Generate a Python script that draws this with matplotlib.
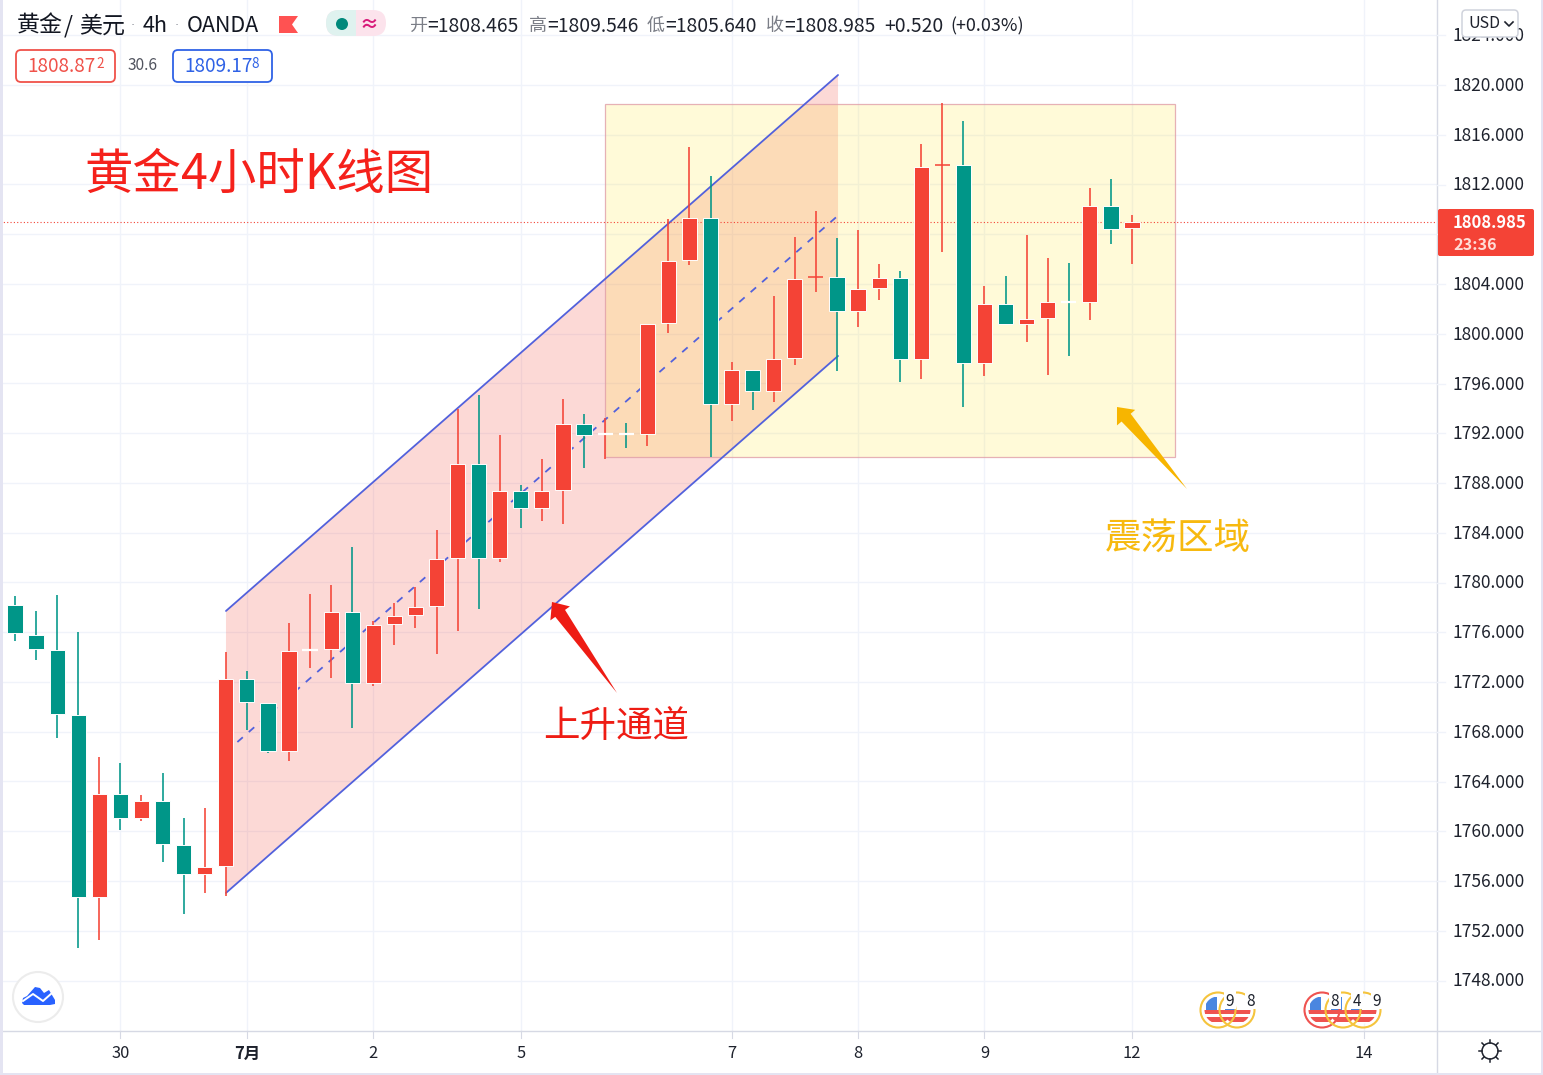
import math
import matplotlib
matplotlib.use("Agg")
import matplotlib.pyplot as plt
from matplotlib.patches import Rectangle, Polygon, FancyBboxPatch, Circle

FONT = ['Noto Sans CJK SC', 'DejaVu Sans']
plt.rcParams['font.family'] = FONT

# ---- candle data ----
opens = [1778.19, 1775.78, 1774.57, 1769.35, 1754.72, 1763.00, 1761.07, 1762.43, 1758.90, 1756.56,
         1757.21, 1772.24, 1770.31, 1766.45, 1774.57, 1774.65, 1777.63, 1771.92, 1776.66, 1777.39,
         1778.11, 1781.97, 1789.53, 1781.97, 1787.36, 1785.99, 1787.44, 1792.74, 1791.94, 1791.94,
         1791.94, 1800.86, 1805.93, 1809.31, 1794.35, 1797.09, 1795.40, 1798.05, 1804.56, 1804.56,
         1801.83, 1803.68, 1804.48, 1797.97, 1813.57, 1813.57, 1797.65, 1802.39, 1800.78, 1801.27,
         1802.55, 1802.55, 1810.27, 1808.465]
highs = [1778.92, 1777.71, 1779.00, 1776.02, 1765.97, 1765.49, 1762.92, 1764.68, 1761.07, 1761.87,
         1774.41, 1772.89, 1770.31, 1776.74, 1779.08, 1779.80, 1782.86, 1776.91, 1778.35, 1779.64,
         1784.22, 1793.95, 1795.08, 1791.86, 1787.84, 1789.93, 1794.75, 1793.55, 1793.23, 1792.82,
         1800.78, 1809.23, 1815.02, 1812.68, 1797.73, 1797.09, 1803.04, 1807.78, 1809.87, 1807.70,
         1808.34, 1805.61, 1805.05, 1815.26, 1818.55, 1817.11, 1803.84, 1804.64, 1807.94, 1806.09,
         1805.69, 1811.72, 1812.44, 1809.546]
lows = [1775.30, 1773.77, 1767.50, 1750.61, 1751.26, 1760.10, 1760.83, 1757.53, 1753.35, 1755.04,
        1754.80, 1768.14, 1766.29, 1765.65, 1773.13, 1772.32, 1768.30, 1771.68, 1774.98, 1776.34,
        1774.25, 1776.10, 1777.87, 1781.65, 1784.38, 1784.95, 1784.70, 1789.21, 1789.93, 1790.81,
        1790.98, 1800.06, 1805.53, 1790.09, 1792.99, 1793.87, 1794.51, 1797.49, 1803.36, 1797.01,
        1800.54, 1802.71, 1796.12, 1796.36, 1806.57, 1794.11, 1796.60, 1800.78, 1799.34, 1796.68,
        1798.21, 1801.11, 1807.22, 1805.640]
closes = [1775.94, 1774.65, 1769.43, 1754.72, 1763.00, 1761.07, 1762.43, 1758.98, 1756.56, 1757.13,
          1772.24, 1770.39, 1766.45, 1774.49, 1774.58, 1777.63, 1771.92, 1776.58, 1777.31, 1778.03,
          1781.89, 1789.53, 1781.97, 1787.36, 1785.99, 1787.36, 1792.74, 1791.86, 1791.95, 1791.93,
          1800.78, 1805.85, 1809.31, 1794.35, 1797.09, 1795.40, 1797.97, 1804.40, 1804.57, 1801.83,
          1803.60, 1804.48, 1797.97, 1813.41, 1813.58, 1797.65, 1802.39, 1800.78, 1801.19, 1802.55,
          1802.54, 1810.27, 1808.42, 1808.985]
flat_red = [38, 44]            # dojis whose flat body shows in red

grid_prices = [1748, 1752, 1756, 1760, 1764, 1768, 1772, 1776, 1780, 1784, 1788, 1792, 1796, 1800,
               1804, 1808, 1812, 1816, 1820, 1824]
hidden_price_labels = [1808]   # covered by the last-price tag
time_pos = [5, 11, 17, 24, 34, 40, 46, 53, 64]
time_labels = ['30', '7月', '2', '5', '7', '8', '9', '12', '14']
last_price = 1808.985

channel_x = [10.01, 39.05]
channel_up = [1777.71, 1820.80]
channel_lo = [1755.04, 1798.21]
channel_mid = [1766.37, 1809.50]
zone_x = [28.0, 55.04]
zone_y = [1790.09, 1818.47]

RED = '#f44336'
GREEN = '#009688'
GRID = '#f0f3fa'
AXLINE = '#d6d9e4'
CHAN = '#5261dc'
DARK = '#131722'

W, H = 1543, 1075
fig = plt.figure(figsize=(W / 100, H / 100), dpi=100, facecolor='white')

PLOT_R, PLOT_B = 1437, 1031
ax = fig.add_axes([0, 1 - PLOT_B / H, PLOT_R / W, PLOT_B / H])
ax.set_xlim(-0.712, 67.47)
ax.set_ylim(1743.94, 1826.83)
ax.axis('off')

for p in grid_prices:
    ax.axhline(p, color=GRID, lw=1, zorder=1)
for t in time_pos:
    ax.axvline(t, color=GRID, lw=1, zorder=1)

# channel
ax.add_patch(Polygon([(channel_x[0], channel_up[0]), (channel_x[1], channel_up[1]),
                      (channel_x[1], channel_lo[1]), (channel_x[0], channel_lo[0])],
                     closed=True, facecolor=RED, alpha=0.2, edgecolor='none', zorder=2))
# zone
ax.add_patch(Rectangle((zone_x[0], zone_y[0]), zone_x[1] - zone_x[0], zone_y[1] - zone_y[0],
                       facecolor=(1.0, 0.90, 0.24, 0.2), edgecolor=(0.88, 0.62, 0.66, 0.8),
                       lw=0.9, zorder=3))
ax.plot(channel_x, channel_up, color=CHAN, lw=1.3, zorder=4, solid_capstyle='round')
ax.plot(channel_x, channel_lo, color=CHAN, lw=1.3, zorder=4, solid_capstyle='round')
ax.plot(channel_x, channel_mid, color=CHAN, lw=1.3, zorder=4, dashes=(4, 4.4))
ax.axhline(last_price, color=RED, lw=0.8, ls=(0, (1, 2)), zorder=4)

# candles
for i, (o, h, l, c) in enumerate(zip(opens, highs, lows, closes)):
    col = RED if c >= o else GREEN
    ax.plot([i, i], [l, h], color=col, lw=1.15, zorder=5, solid_capstyle='butt')
    bottom, top = min(o, c), max(o, c)
    if top - bottom < 0.05:
        ax.plot([i - 0.36, i + 0.36], [o, o], color=RED if i in flat_red else 'white',
                lw=1.1 if i in flat_red else 1.6, zorder=6, solid_capstyle='butt')
    else:
        ax.bar(i, top - bottom, width=0.72, bottom=bottom, color=col, edgecolor='white',
               linewidth=0.7, zorder=6)

# ---- interface layer in picture pixels ----
ui = fig.add_axes([0, 0, 1, 1], zorder=10)
ui.set_xlim(0, W)
ui.set_ylim(H, 0)
ui.axis('off')
ui.patch.set_alpha(0)


def T(x, y, s, px, color=DARK, ha='left', va='center', weight='normal', z=20, family=FONT):
    return ui.text(x, y + 1, s, fontsize=px * 0.72, color=color, ha=ha, va=va, weight=weight,
                   family=family, zorder=z)


def arrow(tip, tail, color):
    ux, uy = tail[0] - tip[0], tail[1] - tip[1]
    n = math.hypot(ux, uy)
    ux, uy = ux / n, uy / n
    nx, ny = -uy, ux
    pts = [tip,
           (tip[0] + ux * 14 + nx * 12, tip[1] + uy * 14 + ny * 12),
           (tip[0] + ux * 14 + nx * 6, tip[1] + uy * 14 + ny * 6),
           tail,
           (tip[0] + ux * 14 - nx * 6, tip[1] + uy * 14 - ny * 6),
           (tip[0] + ux * 14 - nx * 12, tip[1] + uy * 14 - ny * 12)]
    ui.add_patch(Polygon(pts, closed=True, facecolor=color, edgecolor='none', zorder=12))


arrow((552, 602), (617, 693), '#ee1c14')
arrow((1117, 407), (1187, 489), '#f7b500')

# frame lines
ui.plot([PLOT_R, PLOT_R], [0, 1073], color=AXLINE, lw=1, zorder=5)
ui.plot([2, 1541], [PLOT_B, PLOT_B], color=AXLINE, lw=1, zorder=5)
ui.add_patch(Rectangle((0, 0), 2.5, H, facecolor='#e4e4f2', edgecolor='none', zorder=5))
ui.add_patch(Rectangle((1541, 0), 2, H, facecolor='#e4e4f2', edgecolor='none', zorder=5))
ui.add_patch(Rectangle((0, 1072.5), W, 2.5, facecolor='#e4e4f2', edgecolor='none', zorder=5))


def py(p):
    return 85 + (1820 - p) * 12.4375


for p in grid_prices:
    ui.plot([PLOT_R, PLOT_R + 8], [py(p), py(p)], color=GRID, lw=1, zorder=5)
    if p not in hidden_price_labels:
        T(1453, py(p), f'{p:.3f}', 17.4, color='#1e222d', z=10)

for t, lab in zip(time_pos, time_labels):
    x = 15 + 21.075 * t
    ui.plot([x, x], [PLOT_B, PLOT_B + 7], color=AXLINE, lw=0.8, zorder=5)
    T(x, 1053, lab, 16.5, ha='center', weight='bold' if lab == '7月' else 'normal', color='#1e222d')

# price tag
ui.add_patch(FancyBboxPatch((1438, 209), 96, 47, boxstyle='round,pad=0,rounding_size=2',
                            facecolor=RED, edgecolor='none', zorder=15))
T(1453, 222, '1808.985', 16.6, color='white', weight='bold')
T(1453, 244, '23:36', 16.2, color='#ffdcd6', weight='bold')

# USD box
ui.add_patch(FancyBboxPatch((1462, 10), 56, 27, boxstyle='round,pad=0,rounding_size=4',
                            facecolor='white', edgecolor='#d0d3dc', lw=1.1, zorder=18))
T(1468, 23, 'USD', 16, color='#1e222d')
ui.plot([1505, 1509, 1513], [22, 26, 22], color='#1e222d', lw=1.2, zorder=20)

# header
T(17, 25, '黄金', 23)
T(64, 25, '/', 23)
T(79, 25, '美元', 23)
T(133, 25, '·', 13, color='#9598a1', ha='center', family=['DejaVu Sans'])
T(143, 25, '4h', 21.5)
T(177, 25, '·', 13, color='#9598a1', ha='center', family=['DejaVu Sans'])
T(187, 25, 'OANDA', 21.5)
ui.add_patch(Polygon([(279, 16), (298, 16), (292, 24.5), (298, 33), (279, 33)], closed=True,
                     facecolor='#ff5252', edgecolor='none', zorder=15))
ui.add_patch(FancyBboxPatch((326, 10), 60, 26, boxstyle='round,pad=0,rounding_size=13',
                            facecolor='#fce3ec', edgecolor='none', zorder=14))
left_pill = FancyBboxPatch((326, 10), 60, 26, boxstyle='round,pad=0,rounding_size=13',
                           facecolor='#dff2ef', edgecolor='none', zorder=15)
ui.add_patch(left_pill)
left_pill.set_clip_path(Rectangle((326, 10), 30, 26, transform=ui.transData))
ui.add_patch(Circle((342, 24), 6, facecolor='#00897b', edgecolor='none', zorder=16))
T(369, 24, '≈', 19, color='#d81b7a', ha='center', weight='bold')

GRAY = '#7b7e87'
for x, lab, val in [(409, '开', '=1808.465'), (529, '高', '=1809.546'),
                    (647, '低', '=1805.640'), (766, '收', '=1808.985')]:
    T(x, 25, lab, 18, color=GRAY)
    T(x + 18, 25, val, 19.4, color='#1e222d')
T(884, 25, '+0.520', 19.4, color='#1e222d')
T(950, 25, '(+0.03%)', 18, color='#1e222d')

# bid / ask boxes
ui.add_patch(FancyBboxPatch((16, 50), 99, 32, boxstyle='round,pad=0,rounding_size=5',
                            facecolor='white', edgecolor='#f0524a', lw=1.3, zorder=15))
T(27, 66, '1808.87', 19, color='#f0524a')
T(96, 63, '2', 13.5, color='#f0524a')
T(128, 64, '30.6', 15.5, color='#50535e')
ui.add_patch(FancyBboxPatch((173, 50), 99, 32, boxstyle='round,pad=0,rounding_size=5',
                            facecolor='white', edgecolor='#2f62e6', lw=1.3, zorder=15))
T(184, 66, '1809.17', 19, color='#2f62e6')
T(251, 63, '8', 13.5, color='#2f62e6')

# headline and notes
T(84, 174, '黄金4小时K线图', 48.5, color='#f5211b')
T(543, 727, '上升通道', 36.5, color='#ee1c14')
T(1105, 538, '震荡区域', 36.5, color='#f7b90f')

# logo
ui.add_patch(Circle((38, 997), 25, facecolor='white', edgecolor='#ececec', lw=1.5, zorder=15))
ui.add_patch(Polygon([(22, 1003), (23, 998), (27, 996), (35, 987), (40, 988), (44, 993), (49, 990),
                      (52, 995), (55, 1000), (55, 1004), (50, 1005), (24, 1005)], closed=True,
                     facecolor='#2962ff', edgecolor='none', zorder=16))
ui.plot([23, 33, 43, 52], [1001, 994, 1001, 993], color='white', lw=1.4, zorder=17)


# event badges
def badge(cx, ring):
    cy = 1010
    clip = Circle((cx, cy), 13.5, transform=ui.transData)
    bg = Circle((cx, cy), 13.5, facecolor='white', edgecolor='none', zorder=15)
    ui.add_patch(bg)
    for (x0, y0, w, h, c) in [(cx - 14, cy, 28, 4, '#ef5350'),
                              (cx - 14, cy + 7, 28, 5, '#ef5350'),
                              (cx - 12, cy - 13, 11, 13, '#4a86e0')]:
        r = Rectangle((x0, y0), w, h, facecolor=c, edgecolor='none', zorder=16)
        ui.add_patch(r)
        r.set_clip_path(clip)
    ui.add_patch(Circle((cx, cy), 17.5, facecolor='none', edgecolor=ring, lw=1.5, zorder=17))


for cx, ring in [(1218, '#f5c43d'), (1237, '#f5c43d'), (1322, '#ef5350'), (1343, '#f5c43d'), (1363, '#f5c43d')]:
    badge(cx, ring)
for x, lab in [(1230, '9'), (1251, '8'), (1335, '8'), (1357, '4'), (1377, '9')]:
    ui.add_patch(Rectangle((x - 6, 990), 12, 19, facecolor='white', edgecolor='none', zorder=18))
    T(x, 1000, lab, 15.5, ha='center', color='#1e222d')

# settings gear
ui.add_patch(Circle((1490, 1051), 8, facecolor='white', edgecolor='#1e222d', lw=1.1, zorder=15))
for dx, dy in [(0, -11), (0, 11), (11, 0), (-11, 0), (8, 8), (-8, 8), (8, -8), (-8, -8)]:
    ui.plot([1490 + dx * 0.75, 1490 + dx], [1051 + dy * 0.75, 1051 + dy], color='#1e222d', lw=1.1, zorder=15)

fig.savefig('out.png', dpi=100, facecolor='white')
